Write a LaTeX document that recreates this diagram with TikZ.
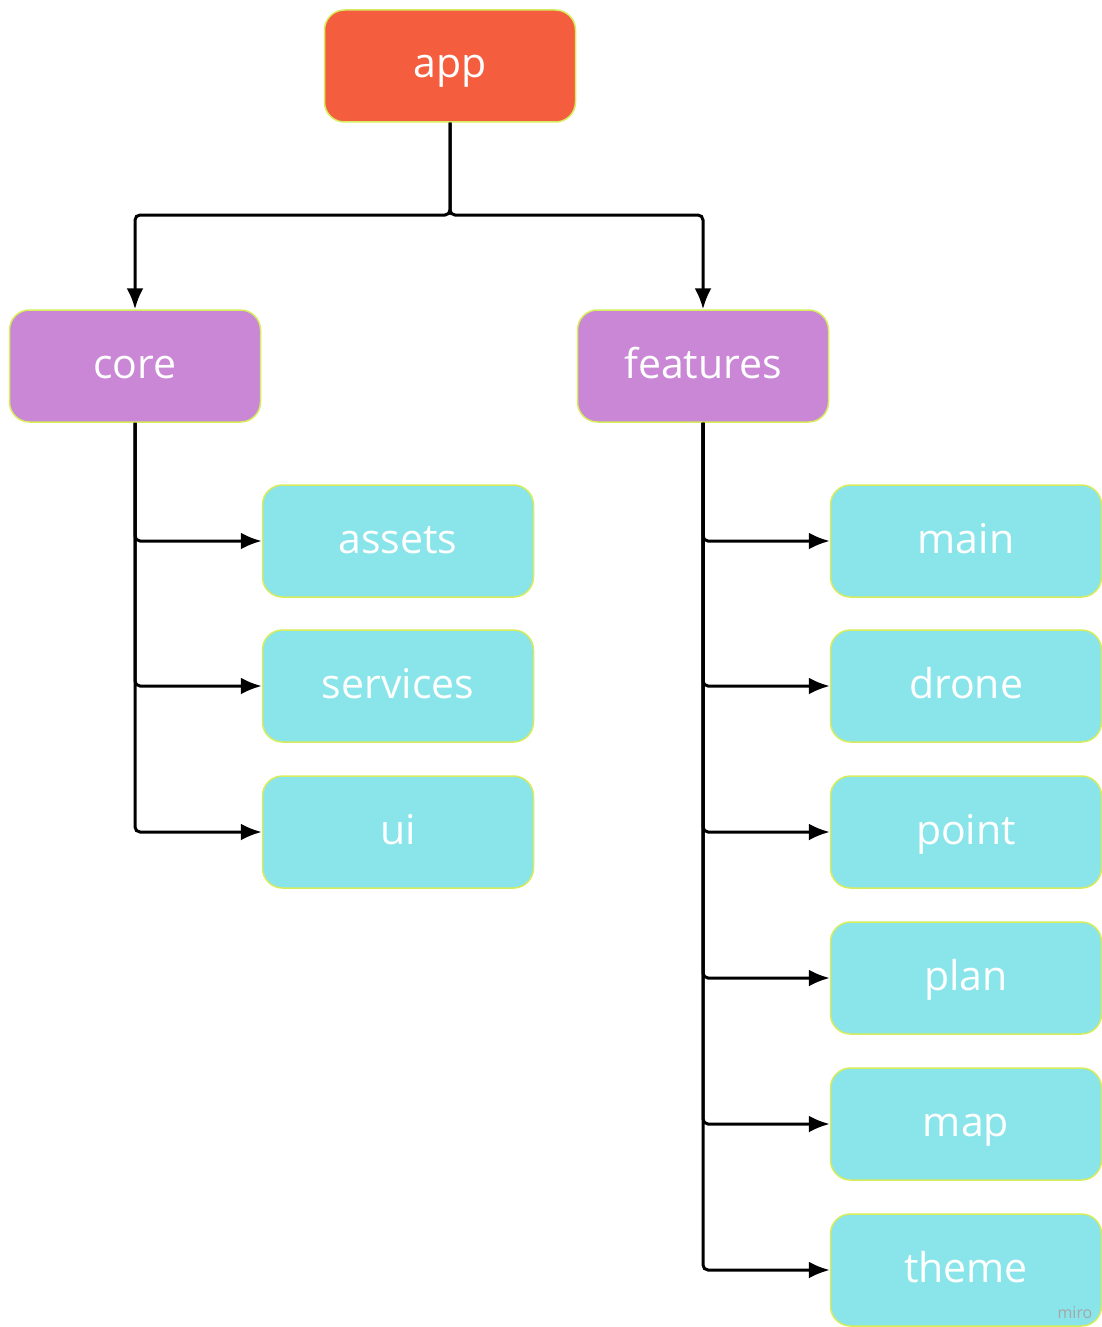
\documentclass[tikz,border=0pt]{standalone}
\usepackage{fontspec}
\setmainfont{Open Sans}
\usetikzlibrary{arrows.meta}

\definecolor{apporange}{HTML}{F45D3E}
\definecolor{grouppurple}{HTML}{C987D6}
\definecolor{leafcyan}{HTML}{89E5EA}
\definecolor{boxrim}{HTML}{D6EC5C}

\tikzset{
  box/.style={draw=boxrim,line width=0.75pt,rounded corners=10pt,
    text=white,font=\fontsize{20.5}{24}\selectfont,inner sep=0pt,
    text height=14pt,text depth=2pt,minimum height=56pt},
  topbox/.style={box,fill=apporange,minimum width=125.5pt},
  groupbox/.style={box,fill=grouppurple,minimum width=125.5pt},
  leafbox/.style={box,fill=leafcyan,minimum width=135.5pt},
  link/.style={draw=black,line width=1.5pt,rounded corners=2.5pt,
    -{Latex[length=10.5pt,width=8.5pt]}}
}

\begin{document}
\begin{tikzpicture}[x=0.5pt,y=-0.5pt]

        \useasboundingbox (0,0) rectangle (1102,1327);

        \node[topbox] (app) at (450,66) {app};

        \begin{scope}[every node/.style={groupbox}]
          \node (core)     at (135,366) {core};
          \node (features) at (703,366) {features};
        \end{scope}

        \begin{scope}[every node/.style={leafbox}]
          \node (assets)   at (398,541) {assets};
          \node (services) at (398,686) {services};
          \node (ui)       at (398,832) {ui};
          \node (main)     at (966,541) {main};
          \node (drone)    at (966,686) {drone};
          \node (point)    at (966,832) {point};
          \node (plan)     at (966,978) {plan};
          \node (map)      at (966,1124) {map};
          \node (theme)    at (966,1270) {theme};
        \end{scope}

        \coordinate (split) at (450,215);

        \draw[link] (app.south) -- (split) -| (core.north);
        \draw[link] (app.south) -- (split) -| (features.north);

        \foreach \leaf in {assets,services,ui}
          \draw[link] (core.south) |- (\leaf.west);

        \foreach \leaf in {main,drone,point,plan,map,theme}
          \draw[link] (features.south) |- (\leaf.west);

        \node[text=gray!70,font=\fontsize{8}{9}\selectfont] (miro) at (1075,1313) {miro};

      \end{tikzpicture}
\end{document}
